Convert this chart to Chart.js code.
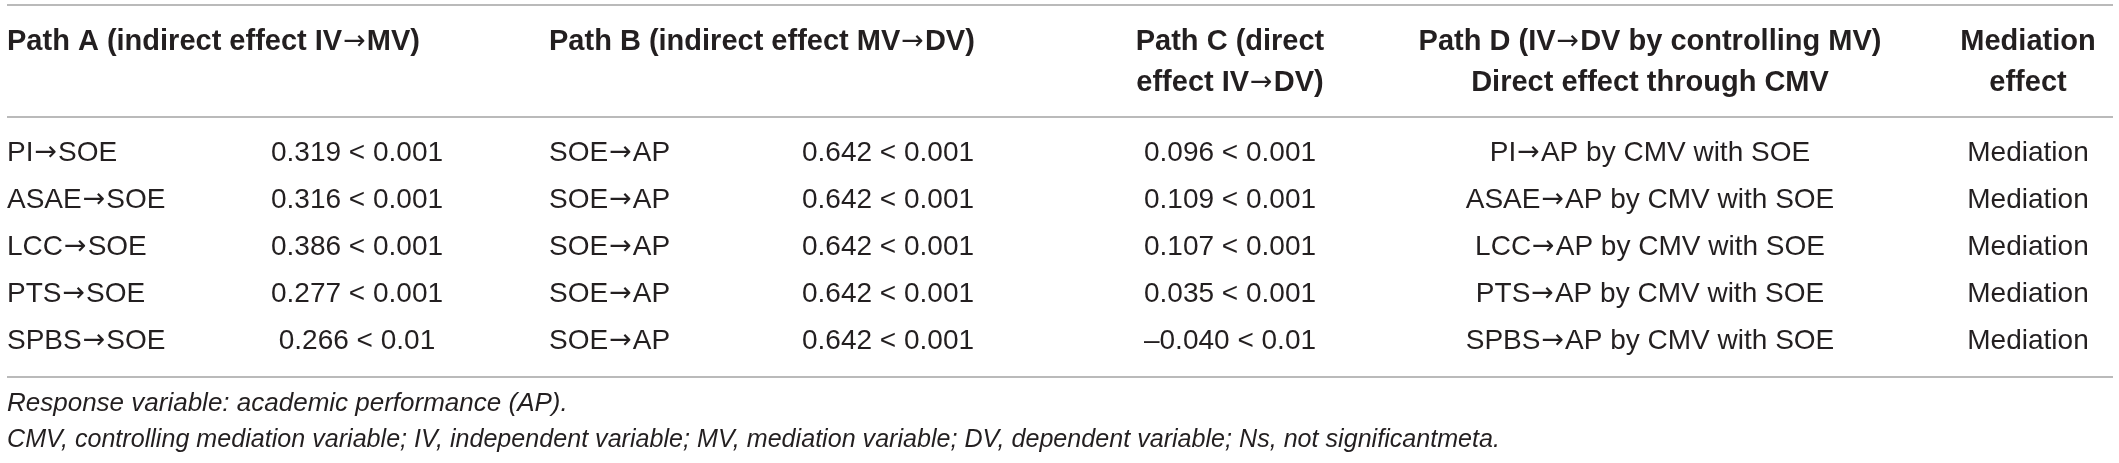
<!DOCTYPE html>
<html>
<head>
<meta charset="utf-8">
<script src="https://cdn.jsdelivr.net/npm/chart.js@4.4.1/dist/chart.umd.min.js"></script>
<style>
  html, body { margin: 0; padding: 0; background: #fff; }
  #wrap { width: 2119px; height: 463px; }
</style>
</head>
<body>
<div id="wrap"><canvas id="tbl"></canvas></div>
<script>
// DADOS DA TABELA
const pathA = ['PI→SOE', 'ASAE→SOE', 'LCC→SOE', 'PTS→SOE', 'SPBS→SOE'];
const pathAValues = ['0.319 < 0.001', '0.316 < 0.001', '0.386 < 0.001', '0.277 < 0.001', '0.266 < 0.01'];
const pathB = ['SOE→AP', 'SOE→AP', 'SOE→AP', 'SOE→AP', 'SOE→AP'];
const pathBValues = ['0.642 < 0.001', '0.642 < 0.001', '0.642 < 0.001', '0.642 < 0.001', '0.642 < 0.001'];
const pathCValues = ['0.096 < 0.001', '0.109 < 0.001', '0.107 < 0.001', '0.035 < 0.001', '–0.040 < 0.01'];
const pathD = ['PI→AP by CMV with SOE', 'ASAE→AP by CMV with SOE', 'LCC→AP by CMV with SOE',
               'PTS→AP by CMV with SOE', 'SPBS→AP by CMV with SOE'];
const mediation = ['Mediation', 'Mediation', 'Mediation', 'Mediation', 'Mediation'];

const headers = [
    ['Path A (indirect effect IV→MV)'],
    ['Path B (indirect effect MV→DV)'],
    ['Path C (direct', 'effect IV→DV)'],
    ['Path D (IV→DV by controlling MV)', 'Direct effect through CMV'],
    ['Mediation', 'effect']
];
const notes = [
    'Response variable: academic performance (AP).',
    'CMV, controlling mediation variable; IV, independent variable; MV, mediation variable; DV, dependent variable; Ns, not significantmeta.'
];

// LAYOUT (x em px da tabela, y em unidades de linha)
const cols = [
    { texts: pathA,       x: 7,    align: 'left' },
    { texts: pathAValues, x: 357,  align: 'center' },
    { texts: pathB,       x: 549,  align: 'left' },
    { texts: pathBValues, x: 888,  align: 'center' },
    { texts: pathCValues, x: 1230, align: 'center' },
    { texts: pathD,       x: 1650, align: 'center' },
    { texts: mediation,   x: 2028, align: 'center' }
];
const headerAnchors = [
    { x: 7, align: 'left' }, { x: 549, align: 'left' }, { x: 1230, align: 'center' },
    { x: 1650, align: 'center' }, { x: 2028, align: 'center' }
];
const headerRows = [-2.362, -1.489];
const ruleRows = [-3.149, -0.766, 4.766];
const noteRows = [5.340, 6.106];
const ink = '#231f20';
const bodyFont = '28px "Liberation Sans", Arial, sans-serif';
const headFont = 'bold 29px "Liberation Sans", Arial, sans-serif';
const arrowFont = '27px "DejaVu Sans", sans-serif';
const noteFont = 'italic 26px "Liberation Sans", Arial, sans-serif';

// texto com a seta desenhada numa fonte que tem a seta longa
function drawCell(ctx, text, px, py, align, font) {
    const parts = text.split('→');
    ctx.font = arrowFont;
    const aw = ctx.measureText('→').width + 2;
    ctx.font = font;
    const widths = parts.map(p => ctx.measureText(p).width);
    const total = widths.reduce((a, b) => a + b, 0) + aw * (parts.length - 1);
    let cx = align === 'center' ? px - total / 2 : px;
    ctx.textAlign = 'left';
    parts.forEach((p, i) => {
        ctx.font = font;
        ctx.fillText(p, cx, py);
        cx += widths[i];
        if (i < parts.length - 1) {
            ctx.font = arrowFont;
            ctx.fillText('→', cx + 1, py);
            cx += aw;
        }
    });
}

const tableText = {
    id: 'tableText',
    afterDatasetsDraw(chart) {
        const { ctx, scales: { x, y } } = chart;
        ctx.save();
        // linhas
        ctx.strokeStyle = '#a3a3a3';
        ctx.lineWidth = 1.5;
        ruleRows.forEach(r => {
            const py = y.getPixelForValue(r);
            ctx.beginPath();
            ctx.moveTo(x.getPixelForValue(7), py);
            ctx.lineTo(x.getPixelForValue(2113), py);
            ctx.stroke();
        });
        ctx.fillStyle = ink;
        ctx.textBaseline = 'middle';
        // cabeçalho
        headers.forEach((lines, hi) => {
            const a = headerAnchors[hi];
            lines.forEach((t, li) => drawCell(ctx, t, x.getPixelForValue(a.x), y.getPixelForValue(headerRows[li]), a.align, headFont));
        });
        // células
        chart.data.datasets.forEach((ds, di) => {
            chart.getDatasetMeta(di).data.forEach((pt, i) => drawCell(ctx, cols[di].texts[i], pt.x, pt.y, cols[di].align, bodyFont));
        });
        // notas
        ctx.font = noteFont;
        ctx.textAlign = 'left';
        ctx.fillText(notes[0], x.getPixelForValue(7), y.getPixelForValue(noteRows[0]));
        ctx.fillText(notes[1], x.getPixelForValue(7), y.getPixelForValue(noteRows[1]), 1493);
        ctx.restore();
    }
};

new Chart(document.getElementById('tbl'), {
    type: 'scatter',
    data: {
        datasets: cols.map(c => ({
            data: c.texts.map((t, i) => ({ x: c.x, y: i })),
            pointRadius: 0,
            showLine: false
        }))
    },
    options: {
        responsive: true,
        maintainAspectRatio: false,
        animation: false,
        layout: { padding: 0 },
        events: [],
        plugins: { legend: { display: false }, tooltip: { enabled: false } },
        scales: {
            x: { type: 'linear', min: 0, max: 2119, display: false },
            y: { type: 'linear', reverse: true, min: -3.255, max: 6.596, display: false }
        }
    },
    plugins: [tableText]
});
</script>
</body>
</html>
